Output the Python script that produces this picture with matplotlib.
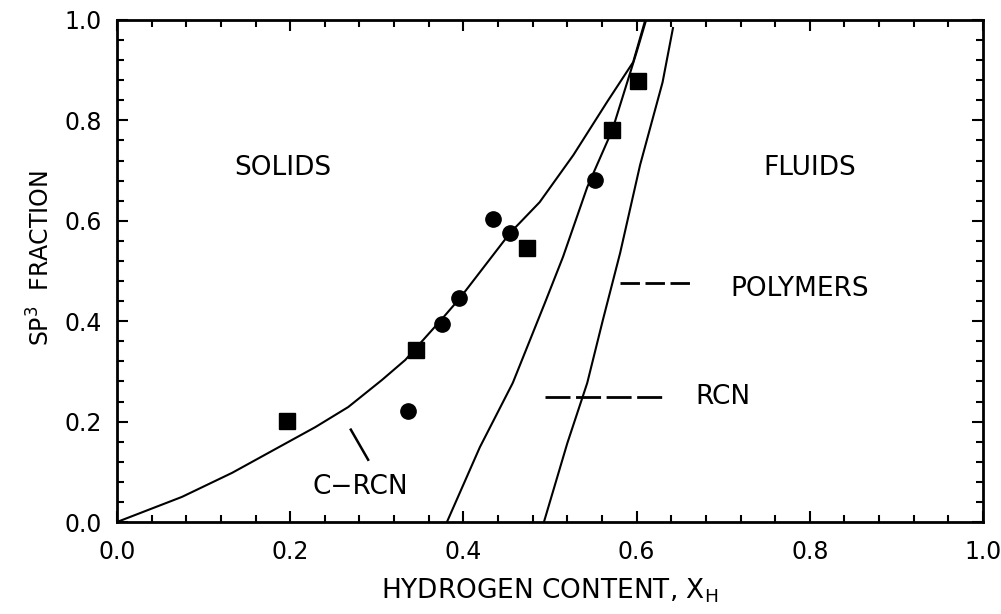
import matplotlib
matplotlib.use("Agg")
import matplotlib.pyplot as plt
import matplotlib.transforms as mtrans
from matplotlib.ticker import MultipleLocator

plt.rcParams['font.family'] = ['DejaVu Sans']

crcn_x = [0.0, 0.075, 0.133, 0.191, 0.229, 0.267, 0.306, 0.333, 0.376, 0.396,
          0.454, 0.488, 0.527, 0.566, 0.596, 0.610]
crcn_y = [0.0, 0.050, 0.098, 0.153, 0.189, 0.229, 0.283, 0.323, 0.406, 0.446,
          0.576, 0.637, 0.731, 0.837, 0.916, 1.0]

rcn_x = [0.381, 0.419, 0.457, 0.494, 0.515, 0.543, 0.572, 0.600, 0.611]
rcn_y = [0.0, 0.149, 0.277, 0.436, 0.528, 0.667, 0.781, 0.936, 1.0]

poly_x = [0.493, 0.520, 0.543, 0.561, 0.581, 0.604, 0.630, 0.642]
poly_y = [0.0, 0.157, 0.277, 0.402, 0.536, 0.711, 0.876, 0.984]

# measured points
sq_x = [0.196, 0.345, 0.473, 0.572, 0.602]
sq_y = [0.201, 0.343, 0.546, 0.781, 0.878]
circ_x = [0.336, 0.375, 0.395, 0.434, 0.454, 0.552]
circ_y = [0.221, 0.394, 0.446, 0.604, 0.576, 0.681]

fig = plt.figure(figsize=(10.01, 6.14), dpi=100)
ax = fig.add_axes([117/1001, 1 - 522/614, 866/1001, 502/614])

lw = 1.5
ax.plot(crcn_x, crcn_y, 'k-', lw=lw)
ax.plot(rcn_x, rcn_y, 'k-', lw=lw)
ax.plot(poly_x, poly_y, 'k-', lw=lw)
ax.plot(sq_x, sq_y, 'ks', ms=11, ls='none')
ax.plot(circ_x, circ_y, 'ko', ms=11, ls='none')

# label leader lines
ax.plot([0.581, 0.664], [0.476, 0.476], 'k', lw=2, dashes=(7, 2))
ax.plot([0.494, 0.633], [0.249, 0.249], 'k', lw=2, dashes=(9, 2))
ax.plot([0.270, 0.290], [0.184, 0.124], 'k', lw=1.8)

lab = dict(fontsize=19, ha='center', va='center')
ax.text(0.192, 0.705, 'SOLIDS', **lab)
ax.text(0.800, 0.705, 'FLUIDS', **lab)
ax.text(0.788, 0.464, 'POLYMERS', **lab)
ax.text(0.700, 0.249, 'RCN', **lab)
ax.text(0.281, 0.070, 'C\u2212RCN', **lab)

ax.set_xlim(0, 1)
ax.set_ylim(0, 1)
ax.xaxis.set_major_locator(MultipleLocator(0.2))
ax.yaxis.set_major_locator(MultipleLocator(0.2))
ax.xaxis.set_minor_locator(MultipleLocator(0.04))
ax.yaxis.set_minor_locator(MultipleLocator(0.04))
ax.xaxis.set_major_formatter(lambda v, p: '%.1f' % v)
ax.yaxis.set_major_formatter(lambda v, p: '%.1f' % v)
ax.tick_params(which='both', direction='in', top=True, right=True, width=1.5)
ax.tick_params(which='major', length=8, labelsize=17)
ax.tick_params(axis='x', which='major', pad=13)
ax.tick_params(axis='y', which='major', pad=11)
ax.tick_params(which='minor', length=5)
for s in ax.spines.values():
    s.set_linewidth(2)

# keep the last x label inside the canvas
fig.canvas.draw()
last = ax.get_xticklabels()[-1]
last.set_transform(last.get_transform() + mtrans.ScaledTranslation(-4/100, 0, fig.dpi_scale_trans))

ax.set_xlabel('HYDROGEN CONTENT, X$_\\mathrm{H}$', fontsize=19, labelpad=9)
ax.set_ylabel('SP$^3$  FRACTION', fontsize=17)
ax.yaxis.set_label_coords(-0.072, 0.526)

fig.savefig('out.png', dpi=100)
